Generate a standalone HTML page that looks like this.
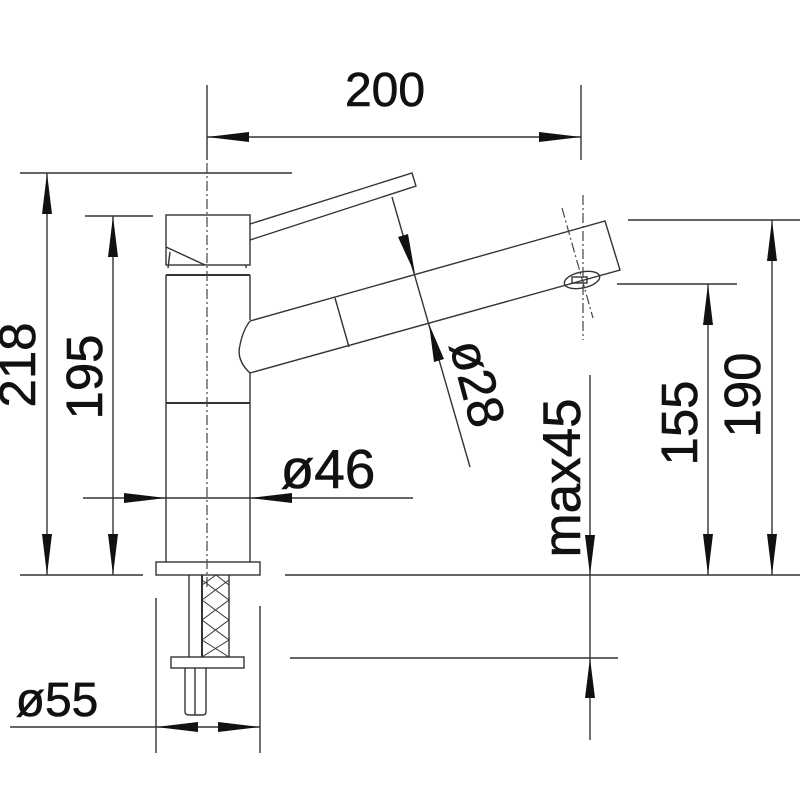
<!DOCTYPE html>
<html><head><meta charset="utf-8"><style>
html,body{margin:0;padding:0;background:#fff}
svg{display:block}
text{font-family:"Liberation Sans",Arial,sans-serif;fill:#111;stroke:#111;stroke-width:0.6}
</style></head><body>
<svg width="800" height="800" viewBox="0 0 800 800" xmlns="http://www.w3.org/2000/svg">
<g stroke="#333" stroke-width="1.4" fill="none">
<line x1="207" y1="85" x2="207" y2="160"/>
<line x1="581" y1="85" x2="581" y2="160"/>
<line x1="207" y1="137" x2="581" y2="137"/>
<line x1="20" y1="173" x2="292" y2="173"/>
<line x1="85" y1="216" x2="153" y2="216"/>
<line x1="20" y1="575" x2="143" y2="575"/>
<line x1="47" y1="173" x2="47" y2="575"/>
<line x1="113" y1="216" x2="113" y2="575"/>
<line x1="83" y1="498" x2="413" y2="498"/>
<rect x="166" y="215" width="84" height="50"/>
<line x1="166" y1="247" x2="205" y2="265"/>
<line x1="170" y1="252" x2="168" y2="268"/>
<line x1="246" y1="265" x2="246" y2="268"/>
<line x1="166" y1="275" x2="250" y2="275" stroke-width="2"/>
<line x1="166" y1="275" x2="166" y2="562"/>
<line x1="250" y1="275" x2="250" y2="320"/>
<line x1="250" y1="373" x2="250" y2="562"/>
<line x1="166" y1="403" x2="250" y2="403" stroke-width="2"/>
<rect x="156" y="562" width="104" height="13"/>
<polyline points="250,224 412,173 416,186 250,240"/>
<path d="M250,321 L605,221 L620,270 L250,373 Q236,360 240,345 Q243,330 250,321"/>
<line x1="335" y1="298" x2="349" y2="347"/>
<ellipse cx="582" cy="280" rx="18" ry="8" transform="rotate(-12 582 280)"/>
<rect x="572" y="277" width="15" height="6"/>
<line x1="189" y1="575" x2="189" y2="657"/>
<line x1="202" y1="575" x2="202" y2="657" stroke-width="2"/>
<line x1="229" y1="575" x2="229" y2="657"/>
<path d="M202,580 L229,600 L202,620 L229,640 L202,657 M229,580 L202,600 L229,620 L202,640 L229,657 M216,575 L202,585 M216,575 L229,585" stroke-width="1"/>
<rect x="171" y="657" width="73" height="11"/>
<path d="M185,668 V712 Q185,715 190,715 H202 Q206,715 206,712 V668 M195,668 V715"/>
<line x1="156" y1="598" x2="156" y2="753"/>
<line x1="260" y1="606" x2="260" y2="753"/>
<line x1="10" y1="727" x2="260" y2="727"/>
<line x1="285" y1="575" x2="800" y2="575"/>
<line x1="290" y1="658" x2="618" y2="658"/>
<line x1="628" y1="220" x2="800" y2="220"/>
<line x1="617" y1="284" x2="737" y2="284"/>
<line x1="772" y1="220" x2="772" y2="575"/>
<line x1="708" y1="284" x2="708" y2="575"/>
<line x1="590" y1="375" x2="590" y2="740"/>
<line x1="392" y1="197" x2="470" y2="467"/>
</g>
<g stroke="#444" stroke-width="1.2" fill="none" stroke-dasharray="10,3,2,3">
<line x1="207" y1="163" x2="207" y2="590"/>
<line x1="583" y1="195" x2="583" y2="340"/>
<line x1="562" y1="208" x2="593" y2="318"/>
</g>
<g fill="#111">
<polygon points="207,137 249,132 249,142"/>
<polygon points="581,137 539,132 539,142"/>
<polygon points="47,173 42,214 52,214"/>
<polygon points="47,575 42,534 52,534"/>
<polygon points="113,216 108,257 118,257"/>
<polygon points="113,575 108,534 118,534"/>
<polygon points="166,498 124,493 124,503"/>
<polygon points="250,498 292,493 292,503"/>
<polygon points="156,727 198,722 198,732"/>
<polygon points="260,727 218,722 218,732"/>
<polygon points="590,575 585,535 595,535"/>
<polygon points="590,658 585,698 595,698"/>
<polygon points="708,284 703,325 713,325"/>
<polygon points="708,575 703,534 713,534"/>
<polygon points="772,220 767,261 777,261"/>
<polygon points="772,575 767,534 777,534"/>
<polygon points="415,274 398,237 408,234"/>
<polygon points="429,324 434,362 444,359"/>
</g>
<text x="385" y="106" font-size="48" text-anchor="middle">200</text>
<text x="328" y="488" font-size="55" text-anchor="middle">ø46</text>
<text x="57" y="716" font-size="48" text-anchor="middle">ø55</text>
<g font-size="51" text-anchor="middle">
<text transform="translate(17,365) rotate(-90)" y="18">218</text>
<text transform="translate(84,377) rotate(-90)" y="18">195</text>
<text transform="translate(679,423) rotate(-90)" y="18">155</text>
<text transform="translate(742,395) rotate(-90)" y="18">190</text>
<text transform="translate(562,478) rotate(-90)" y="18" font-size="53">max45</text>
<text transform="translate(478,383) rotate(75)" y="18">ø28</text>
</g>
</svg>
</body></html>
